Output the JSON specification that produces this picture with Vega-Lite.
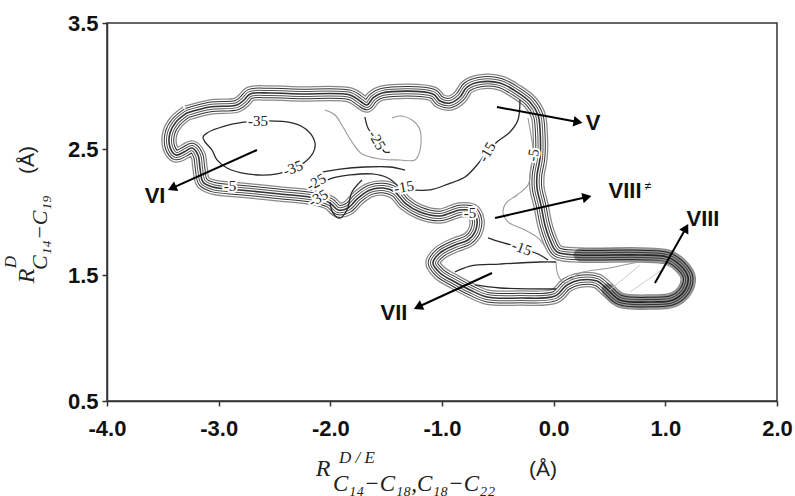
{
"$schema": "https://vega.github.io/schema/vega-lite/v6.json",
"width": 670, "height": 378,
"autosize": {"type": "none"},
"padding": {"left": 107, "top": 23, "right": 18, "bottom": 95},
"background": "white",
"config": {"view": {"stroke": "#333", "strokeWidth": 1.5}},
"datasets": {
"outer": [
{"i":0,"x":-3.284,"y":2.786},{"i":1,"x":-3.078,"y":2.833},{"i":2,"x":-2.836,"y":2.849},{"i":3,"x":-2.773,"y":2.889},{"i":4,"x":-2.719,"y":2.937},{"i":5,"x":-2.540,"y":2.944},{"i":6,"x":-2.272,"y":2.937},{"i":7,"x":-1.824,"y":2.929},{"i":8,"x":-1.734,"y":2.881},{"i":9,"x":-1.672,"y":2.849},{"i":10,"x":-1.618,"y":2.905},{"i":11,"x":-1.537,"y":2.944},{"i":12,"x":-1.081,"y":2.937},{"i":13,"x":-1.018,"y":2.881},{"i":14,"x":-0.928,"y":2.865},{"i":15,"x":-0.839,"y":2.913},{"i":16,"x":-0.776,"y":2.992},{"i":17,"x":-0.660,"y":3.032},{"i":18,"x":-0.481,"y":3.024},{"i":19,"x":-0.328,"y":2.952},{"i":20,"x":-0.212,"y":2.873},{"i":21,"x":-0.140,"y":2.770},{"i":22,"x":-0.122,"y":2.651},{"i":23,"x":-0.122,"y":2.429},{"i":24,"x":-0.149,"y":2.294},{"i":25,"x":-0.149,"y":2.190},{"i":26,"x":-0.114,"y":2.056},{"i":27,"x":-0.078,"y":1.897},{"i":28,"x":-0.033,"y":1.778},{"i":29,"x":0.030,"y":1.683},{"i":30,"x":0.236,"y":1.659},{"i":31,"x":0.773,"y":1.659},{"i":32,"x":1.015,"y":1.643},{"i":33,"x":1.131,"y":1.579},{"i":34,"x":1.203,"y":1.484},{"i":35,"x":1.176,"y":1.381},{"i":36,"x":1.069,"y":1.302},{"i":37,"x":0.889,"y":1.286},{"i":38,"x":0.594,"y":1.302},{"i":39,"x":0.486,"y":1.381},{"i":40,"x":0.388,"y":1.452},{"i":41,"x":0.236,"y":1.460},{"i":42,"x":0.119,"y":1.421},{"i":43,"x":0.012,"y":1.333},{"i":44,"x":-0.302,"y":1.317},{"i":45,"x":-0.597,"y":1.325},{"i":46,"x":-0.749,"y":1.381},{"i":47,"x":-0.884,"y":1.444},{"i":48,"x":-1.018,"y":1.516},{"i":49,"x":-1.081,"y":1.595},{"i":50,"x":-1.018,"y":1.675},{"i":51,"x":-0.884,"y":1.738},{"i":52,"x":-0.767,"y":1.778},{"i":53,"x":-0.705,"y":1.841},{"i":54,"x":-0.687,"y":1.937},{"i":55,"x":-0.731,"y":2.008},{"i":56,"x":-0.839,"y":2.016},{"i":57,"x":-1.018,"y":1.968},{"i":58,"x":-1.197,"y":2.000},{"i":59,"x":-1.331,"y":2.071},{"i":60,"x":-1.421,"y":2.159},{"i":61,"x":-1.528,"y":2.190},{"i":62,"x":-1.645,"y":2.175},{"i":63,"x":-1.752,"y":2.111},{"i":64,"x":-1.842,"y":2.032},{"i":65,"x":-1.931,"y":2.016},{"i":66,"x":-2.003,"y":2.071},{"i":67,"x":-2.137,"y":2.111},{"i":68,"x":-2.451,"y":2.143},{"i":69,"x":-2.809,"y":2.175},{"i":70,"x":-3.051,"y":2.198},{"i":71,"x":-3.140,"y":2.238},{"i":72,"x":-3.167,"y":2.349},{"i":73,"x":-3.185,"y":2.452},{"i":74,"x":-3.239,"y":2.508},{"i":75,"x":-3.310,"y":2.476},{"i":76,"x":-3.382,"y":2.452},{"i":77,"x":-3.436,"y":2.516},{"i":78,"x":-3.436,"y":2.627},{"i":79,"x":-3.382,"y":2.714},{"i":80,"x":-3.284,"y":2.786}
],
"darkend": [
{"i":0,"x":0.236,"y":1.659},{"i":1,"x":0.773,"y":1.659},{"i":2,"x":1.015,"y":1.643},{"i":3,"x":1.131,"y":1.579},{"i":4,"x":1.203,"y":1.484},{"i":5,"x":1.176,"y":1.381},{"i":6,"x":1.069,"y":1.302},{"i":7,"x":0.889,"y":1.286},{"i":8,"x":0.594,"y":1.302},{"i":9,"x":0.486,"y":1.381}
],
"dark": [
{"s":"c35","i":0,"x":-3.051,"y":2.651},{"s":"c35","i":1,"x":-2.881,"y":2.698},{"s":"c35","i":2,"x":-2.648,"y":2.722},{"s":"c35","i":3,"x":-2.334,"y":2.706},{"s":"c35","i":4,"x":-2.209,"y":2.651},{"s":"c35","i":5,"x":-2.137,"y":2.548},{"s":"c35","i":6,"x":-2.155,"y":2.468},{"s":"c35","i":7,"x":-2.227,"y":2.397},{"s":"c35","i":8,"x":-2.334,"y":2.349},{"s":"c35","i":9,"x":-2.478,"y":2.302},{"s":"c35","i":10,"x":-2.746,"y":2.302},{"s":"c35","i":11,"x":-2.925,"y":2.349},{"s":"c35","i":12,"x":-3.015,"y":2.413},{"s":"c35","i":13,"x":-3.060,"y":2.492},{"s":"c35","i":14,"x":-3.122,"y":2.556},{"s":"c35","i":15,"x":-3.140,"y":2.595},{"s":"c35","i":16,"x":-3.104,"y":2.627},{"s":"c35","i":17,"x":-3.051,"y":2.651},
{"s":"c15u","i":0,"x":-0.302,"y":2.889},{"s":"c15u","i":1,"x":-0.320,"y":2.730},{"s":"c15u","i":2,"x":-0.391,"y":2.635},{"s":"c15u","i":3,"x":-0.508,"y":2.556},{"s":"c15u","i":4,"x":-0.597,"y":2.476},{"s":"c15u","i":5,"x":-0.687,"y":2.373},{"s":"c15u","i":6,"x":-0.794,"y":2.278},{"s":"c15u","i":7,"x":-0.946,"y":2.222},{"s":"c15u","i":8,"x":-1.108,"y":2.175},{"s":"c15u","i":9,"x":-1.269,"y":2.175},{"s":"c15u","i":10,"x":-1.421,"y":2.183},
{"s":"c25","i":0,"x":-1.690,"y":2.754},{"s":"c25","i":1,"x":-1.663,"y":2.667},{"s":"c25","i":2,"x":-1.582,"y":2.571},{"s":"c25","i":3,"x":-1.511,"y":2.476},{"s":"c25","i":4,"x":-1.466,"y":2.476},
{"s":"d1","i":0,"x":-2.075,"y":2.317},{"s":"d1","i":1,"x":-1.913,"y":2.341},{"s":"d1","i":2,"x":-1.690,"y":2.357},{"s":"d1","i":3,"x":-1.466,"y":2.357},{"s":"d1","i":4,"x":-1.331,"y":2.333},
{"s":"d2","i":0,"x":-2.110,"y":2.214},{"s":"d2","i":1,"x":-1.976,"y":2.270},{"s":"d2","i":2,"x":-1.824,"y":2.294},{"s":"d2","i":3,"x":-1.627,"y":2.302},{"s":"d2","i":4,"x":-1.484,"y":2.270},{"s":"d2","i":5,"x":-1.394,"y":2.206},
{"s":"d3","i":0,"x":-2.003,"y":2.079},{"s":"d3","i":1,"x":-1.976,"y":1.992},{"s":"d3","i":2,"x":-1.913,"y":1.952},{"s":"d3","i":3,"x":-1.851,"y":2.016},{"s":"d3","i":4,"x":-1.806,"y":2.159},{"s":"d3","i":5,"x":-1.716,"y":2.254},
{"s":"ll1","i":0,"x":-0.884,"y":1.524},{"s":"ll1","i":1,"x":-0.749,"y":1.571},{"s":"ll1","i":2,"x":-0.481,"y":1.587},{"s":"ll1","i":3,"x":-0.122,"y":1.603},{"s":"ll1","i":4,"x":0.021,"y":1.603},
{"s":"ll2","i":0,"x":-0.705,"y":1.421},{"s":"ll2","i":1,"x":-0.481,"y":1.397},{"s":"ll2","i":2,"x":0.021,"y":1.389},
{"s":"c15l","i":0,"x":-0.588,"y":1.794},{"s":"c15l","i":1,"x":-0.481,"y":1.762},{"s":"c15l","i":2,"x":-0.346,"y":1.730},{"s":"c15l","i":3,"x":-0.239,"y":1.698},{"s":"c15l","i":4,"x":-0.122,"y":1.659},{"s":"c15l","i":5,"x":-0.051,"y":1.619}
],
"gray": [
{"s":"g2","i":0,"x":-2.048,"y":2.810},{"s":"g2","i":1,"x":-1.958,"y":2.770},{"s":"g2","i":2,"x":-1.887,"y":2.675},{"s":"g2","i":3,"x":-1.806,"y":2.556},{"s":"g2","i":4,"x":-1.716,"y":2.460},{"s":"g2","i":5,"x":-1.555,"y":2.421},{"s":"g2","i":6,"x":-1.376,"y":2.413},{"s":"g2","i":7,"x":-1.242,"y":2.413},{"s":"g2","i":8,"x":-1.197,"y":2.492},{"s":"g2","i":9,"x":-1.197,"y":2.651},{"s":"g2","i":10,"x":-1.269,"y":2.730},{"s":"g2","i":11,"x":-1.376,"y":2.762},{"s":"g2","i":12,"x":-1.448,"y":2.746},
{"s":"c5","i":0,"x":-0.230,"y":2.746},{"s":"c5","i":1,"x":-0.203,"y":2.611},{"s":"c5","i":2,"x":-0.185,"y":2.492},{"s":"c5","i":3,"x":-0.203,"y":2.349},{"s":"c5","i":4,"x":-0.230,"y":2.214},{"s":"c5","i":5,"x":-0.328,"y":2.135},{"s":"c5","i":6,"x":-0.427,"y":2.071},{"s":"c5","i":7,"x":-0.454,"y":2.000},{"s":"c5","i":8,"x":-0.409,"y":1.921},{"s":"c5","i":9,"x":-0.275,"y":1.865},{"s":"c5","i":10,"x":-0.140,"y":1.794},{"s":"c5","i":11,"x":-0.060,"y":1.698},
{"s":"ll3","i":0,"x":0.021,"y":1.603},{"s":"ll3","i":1,"x":0.039,"y":1.500},{"s":"ll3","i":2,"x":0.101,"y":1.437},{"s":"ll3","i":3,"x":0.236,"y":1.516},{"s":"ll3","i":4,"x":0.504,"y":1.556},{"s":"ll3","i":5,"x":0.773,"y":1.603},{"s":"ll3","i":6,"x":1.024,"y":1.611}
],
"faint": [
{"s":"f1","i":0,"x":0.504,"y":1.381},{"s":"f1","i":1,"x":0.773,"y":1.579},
{"s":"f2","i":0,"x":0.684,"y":1.365},{"s":"f2","i":1,"x":0.994,"y":1.556}
],
"arrows": [
{"a":"V","i":0,"x":-0.508,"y":2.833},{"a":"V","i":1,"x":0.218,"y":2.714},
{"a":"VI","i":0,"x":-2.657,"y":2.492},{"a":"VI","i":1,"x":-3.418,"y":2.190},
{"a":"VII","i":0,"x":-0.552,"y":1.516},{"a":"VII","i":1,"x":-1.215,"y":1.246},
{"a":"VIIIx","i":0,"x":-0.525,"y":1.952},{"a":"VIIIx","i":1,"x":0.298,"y":2.119},
{"a":"VIII","i":0,"x":0.907,"y":1.437},{"a":"VIII","i":1,"x":1.185,"y":1.873}
],
"heads": [
{"a":"V","x":0.218,"y":2.714},{"a":"VI","x":-3.418,"y":2.190},{"a":"VII","x":-1.215,"y":1.246},{"a":"VIIIx","x":0.298,"y":2.119},{"a":"VIII","x":1.185,"y":1.873}
],
"alabels": [
{"t":"V","x":0.352,"y":2.706},{"t":"VI","x":-3.570,"y":2.127},{"t":"VII","x":-1.430,"y":1.198},{"t":"VIII","x":0.639,"y":2.167},{"t":"VIII","x":1.337,"y":1.944}
],
"clab": [
{"id":"a","t":"-35","x":-2.648,"y":2.722},{"id":"b","t":"-35","x":-2.334,"y":2.349},{"id":"c","t":"-25","x":-1.582,"y":2.571},{"id":"d","t":"-25","x":-2.128,"y":2.238},{"id":"e","t":"-35","x":-2.110,"y":2.111},{"id":"f","t":"-15","x":-0.597,"y":2.476},{"id":"g","t":"-15","x":-1.340,"y":2.198},{"id":"h","t":"-5","x":-0.185,"y":2.452},{"id":"i","t":"-15","x":-0.284,"y":1.714},{"id":"j","t":"-5","x":-2.899,"y":2.206},{"id":"k","t":"-5","x":-0.749,"y":1.992}
],
"titles": [
{"id":"xR","t":"R","x":-2.066,"y":-0.040},{"id":"xSup","t":"D / E","x":-1.761,"y":0.048},{"id":"xSub","t":"C₁₄−C₁₈,C₁₈−C₂₂","x":-1.976,"y":-0.159},{"id":"xA","t":"(Å)","x":-0.096,"y":-0.048},
{"id":"yR","t":"R","x":-4.716,"y":1.492},{"id":"ySup","t":"D","x":-4.860,"y":1.603},{"id":"ySub","t":"C₁₄−C₁₉","x":-4.600,"y":1.540},{"id":"yA","t":"(Å)","x":-4.707,"y":2.413}
]
},
"encoding": {
"x": {"field": "x", "type": "quantitative", "scale": {"domain": [-4, 2], "nice": false, "zero": false},
 "axis": {"values": [-4,-3,-2,-1,0,1,2], "labelExpr": "datum.value < 0 ? '-' + format(-datum.value, '.1f') : format(datum.value, '.1f')", "title": null, "grid": false, "tickSize": 5, "labelPadding": 12, "labelFont": "Liberation Sans", "labelFontWeight": "bold", "labelFontSize": 22, "labelColor": "#111", "domainColor": "#333", "tickColor": "#333", "domainWidth": 1.5, "tickWidth": 1.5, "labelOverlap": false, "labelFlush": false, "labelBound": false}},
"y": {"field": "y", "type": "quantitative", "scale": {"domain": [0.5, 3.5], "nice": false, "zero": false},
 "axis": {"values": [0.5,1.5,2.5,3.5], "format": ".1f", "title": null, "grid": false, "tickSize": 5, "labelPadding": 4, "labelFont": "Liberation Sans", "labelFontWeight": "bold", "labelFontSize": 22, "labelColor": "#111", "domainColor": "#333", "tickColor": "#333", "domainWidth": 1.5, "tickWidth": 1.5, "labelOverlap": false, "labelFlush": false, "labelBound": false}}
},
"layer": [
{"data": {"name": "outer"}, "mark": {"type": "line", "stroke": "#888", "strokeWidth": 15.5, "interpolate": "catmull-rom", "strokeJoin": "round"}, "encoding": {"order": {"field": "i", "type": "quantitative"}}},
{"data": {"name": "outer"}, "mark": {"type": "line", "stroke": "white", "strokeWidth": 13, "interpolate": "catmull-rom", "strokeJoin": "round"}, "encoding": {"order": {"field": "i", "type": "quantitative"}}},
{"data": {"name": "outer"}, "mark": {"type": "line", "stroke": "#333", "strokeWidth": 10.5, "interpolate": "catmull-rom", "strokeJoin": "round"}, "encoding": {"order": {"field": "i", "type": "quantitative"}}},
{"data": {"name": "outer"}, "mark": {"type": "line", "stroke": "white", "strokeWidth": 8.5, "interpolate": "catmull-rom", "strokeJoin": "round"}, "encoding": {"order": {"field": "i", "type": "quantitative"}}},
{"data": {"name": "outer"}, "mark": {"type": "line", "stroke": "#555", "strokeWidth": 6, "interpolate": "catmull-rom", "strokeJoin": "round"}, "encoding": {"order": {"field": "i", "type": "quantitative"}}},
{"data": {"name": "outer"}, "mark": {"type": "line", "stroke": "white", "strokeWidth": 4, "interpolate": "catmull-rom", "strokeJoin": "round"}, "encoding": {"order": {"field": "i", "type": "quantitative"}}},
{"data": {"name": "outer"}, "mark": {"type": "line", "stroke": "#333", "strokeWidth": 1.6, "interpolate": "catmull-rom", "strokeJoin": "round"}, "encoding": {"order": {"field": "i", "type": "quantitative"}}},
{"data": {"name": "darkend"}, "mark": {"type": "line", "stroke": "#111", "strokeWidth": 13, "opacity": 0.45, "interpolate": "catmull-rom", "strokeJoin": "round", "strokeCap": "round"}, "encoding": {"order": {"field": "i", "type": "quantitative"}}},
{"data": {"name": "faint"}, "mark": {"type": "line", "stroke": "#ccc", "strokeWidth": 1}, "encoding": {"detail": {"field": "s"}, "order": {"field": "i", "type": "quantitative"}}},
{"data": {"name": "gray"}, "mark": {"type": "line", "stroke": "#9a9a9a", "strokeWidth": 1.1, "interpolate": "catmull-rom"}, "encoding": {"detail": {"field": "s"}, "order": {"field": "i", "type": "quantitative"}}},
{"data": {"name": "dark"}, "mark": {"type": "line", "stroke": "#2a2a2a", "strokeWidth": 1.3, "interpolate": "catmull-rom"}, "encoding": {"detail": {"field": "s"}, "order": {"field": "i", "type": "quantitative"}}},
{"data": {"name": "clab"}, "transform": [{"filter": "indexof(['a','j','k'], datum.id) >= 0"}], "layer": [
 {"mark": {"type": "text", "angle": 0, "font": "Liberation Serif", "fontSize": 15, "fill": "white", "stroke": "white", "strokeWidth": 4}, "encoding": {"text": {"field": "t"}}},
 {"mark": {"type": "text", "angle": 0, "font": "Liberation Serif", "fontSize": 15, "fill": "#222"}, "encoding": {"text": {"field": "t"}}}]},
{"data": {"name": "clab"}, "transform": [{"filter": "datum.id == 'b'"}], "layer": [
 {"mark": {"type": "text", "angle": 340, "font": "Liberation Serif", "fontSize": 15, "fill": "white", "stroke": "white", "strokeWidth": 4}, "encoding": {"text": {"field": "t"}}},
 {"mark": {"type": "text", "angle": 340, "font": "Liberation Serif", "fontSize": 15, "fill": "#222"}, "encoding": {"text": {"field": "t"}}}]},
{"data": {"name": "clab"}, "transform": [{"filter": "datum.id == 'c'"}], "layer": [
 {"mark": {"type": "text", "angle": 60, "font": "Liberation Serif", "fontSize": 15, "fill": "white", "stroke": "white", "strokeWidth": 4}, "encoding": {"text": {"field": "t"}}},
 {"mark": {"type": "text", "angle": 60, "font": "Liberation Serif", "fontSize": 15, "fill": "#222"}, "encoding": {"text": {"field": "t"}}}]},
{"data": {"name": "clab"}, "transform": [{"filter": "datum.id == 'd' || datum.id == 'e'"}], "layer": [
 {"mark": {"type": "text", "angle": 330, "font": "Liberation Serif", "fontSize": 15, "fill": "white", "stroke": "white", "strokeWidth": 4}, "encoding": {"text": {"field": "t"}}},
 {"mark": {"type": "text", "angle": 330, "font": "Liberation Serif", "fontSize": 15, "fill": "#222"}, "encoding": {"text": {"field": "t"}}}]},
{"data": {"name": "clab"}, "transform": [{"filter": "datum.id == 'f'"}], "layer": [
 {"mark": {"type": "text", "angle": 300, "font": "Liberation Serif", "fontSize": 15, "fill": "white", "stroke": "white", "strokeWidth": 4}, "encoding": {"text": {"field": "t"}}},
 {"mark": {"type": "text", "angle": 300, "font": "Liberation Serif", "fontSize": 15, "fill": "#222"}, "encoding": {"text": {"field": "t"}}}]},
{"data": {"name": "clab"}, "transform": [{"filter": "datum.id == 'g'"}], "layer": [
 {"mark": {"type": "text", "angle": 350, "font": "Liberation Serif", "fontSize": 15, "fill": "white", "stroke": "white", "strokeWidth": 4}, "encoding": {"text": {"field": "t"}}},
 {"mark": {"type": "text", "angle": 350, "font": "Liberation Serif", "fontSize": 15, "fill": "#222"}, "encoding": {"text": {"field": "t"}}}]},
{"data": {"name": "clab"}, "transform": [{"filter": "datum.id == 'h'"}], "layer": [
 {"mark": {"type": "text", "angle": 280, "font": "Liberation Serif", "fontSize": 15, "fill": "white", "stroke": "white", "strokeWidth": 4}, "encoding": {"text": {"field": "t"}}},
 {"mark": {"type": "text", "angle": 280, "font": "Liberation Serif", "fontSize": 15, "fill": "#222"}, "encoding": {"text": {"field": "t"}}}]},
{"data": {"name": "clab"}, "transform": [{"filter": "datum.id == 'i'"}], "layer": [
 {"mark": {"type": "text", "angle": 20, "font": "Liberation Serif", "fontSize": 15, "fill": "white", "stroke": "white", "strokeWidth": 4}, "encoding": {"text": {"field": "t"}}},
 {"mark": {"type": "text", "angle": 20, "font": "Liberation Serif", "fontSize": 15, "fill": "#222"}, "encoding": {"text": {"field": "t"}}}]},
{"data": {"name": "arrows"}, "mark": {"type": "line", "stroke": "black", "strokeWidth": 2}, "encoding": {"detail": {"field": "a"}, "order": {"field": "i", "type": "quantitative"}}},
{"data": {"name": "heads"}, "transform": [{"filter": "datum.a == 'V'"}], "mark": {"type": "point", "shape": "triangle-up", "filled": true, "color": "black", "opacity": 1, "size": 110, "angle": 100}},
{"data": {"name": "heads"}, "transform": [{"filter": "datum.a == 'VI'"}], "mark": {"type": "point", "shape": "triangle-up", "filled": true, "color": "black", "opacity": 1, "size": 110, "angle": 246}},
{"data": {"name": "heads"}, "transform": [{"filter": "datum.a == 'VII'"}], "mark": {"type": "point", "shape": "triangle-up", "filled": true, "color": "black", "opacity": 1, "size": 110, "angle": 245}},
{"data": {"name": "heads"}, "transform": [{"filter": "datum.a == 'VIIIx'"}], "mark": {"type": "point", "shape": "triangle-up", "filled": true, "color": "black", "opacity": 1, "size": 110, "angle": 77}},
{"data": {"name": "heads"}, "transform": [{"filter": "datum.a == 'VIII'"}], "mark": {"type": "point", "shape": "triangle-up", "filled": true, "color": "black", "opacity": 1, "size": 110, "angle": 29}},
{"data": {"name": "alabels"}, "mark": {"type": "text", "font": "Liberation Sans", "fontWeight": "bold", "fontSize": 22, "fill": "#111"}, "encoding": {"text": {"field": "t"}}},
{"data": {"values": [{"t": "≠", "x": 0.845, "y": 2.206}]}, "mark": {"type": "text", "font": "Liberation Sans", "fontSize": 12, "fill": "#111"}, "encoding": {"text": {"field": "t"}}},
{"data": {"name": "titles"}, "transform": [{"filter": "datum.id == 'xR'"}], "mark": {"type": "text", "font": "Liberation Serif", "fontStyle": "italic", "fontSize": 24, "fill": "#222"}, "encoding": {"text": {"field": "t"}}},
{"data": {"name": "titles"}, "transform": [{"filter": "datum.id == 'xSup'"}], "mark": {"type": "text", "font": "Liberation Serif", "fontStyle": "italic", "fontSize": 17, "fill": "#222"}, "encoding": {"text": {"field": "t"}}},
{"data": {"name": "titles"}, "transform": [{"filter": "datum.id == 'xSub'"}], "mark": {"type": "text", "font": "Liberation Serif", "fontStyle": "italic", "fontSize": 23, "align": "left", "fill": "#222"}, "encoding": {"text": {"field": "t"}}},
{"data": {"name": "titles"}, "transform": [{"filter": "datum.id == 'xA'"}], "mark": {"type": "text", "font": "Liberation Sans", "fontSize": 21, "fill": "#222"}, "encoding": {"text": {"field": "t"}}},
{"data": {"name": "titles"}, "transform": [{"filter": "datum.id == 'yR'"}], "mark": {"type": "text", "angle": 270, "font": "Liberation Serif", "fontStyle": "italic", "fontSize": 24, "fill": "#222"}, "encoding": {"text": {"field": "t"}}},
{"data": {"name": "titles"}, "transform": [{"filter": "datum.id == 'ySup'"}], "mark": {"type": "text", "angle": 270, "font": "Liberation Serif", "fontStyle": "italic", "fontSize": 17, "fill": "#222"}, "encoding": {"text": {"field": "t"}}},
{"data": {"name": "titles"}, "transform": [{"filter": "datum.id == 'ySub'"}], "mark": {"type": "text", "angle": 270, "font": "Liberation Serif", "fontStyle": "italic", "fontSize": 22, "align": "left", "fill": "#222"}, "encoding": {"text": {"field": "t"}}},
{"data": {"name": "titles"}, "transform": [{"filter": "datum.id == 'yA'"}], "mark": {"type": "text", "angle": 270, "font": "Liberation Sans", "fontSize": 21, "fill": "#222"}, "encoding": {"text": {"field": "t"}}}
]
}
